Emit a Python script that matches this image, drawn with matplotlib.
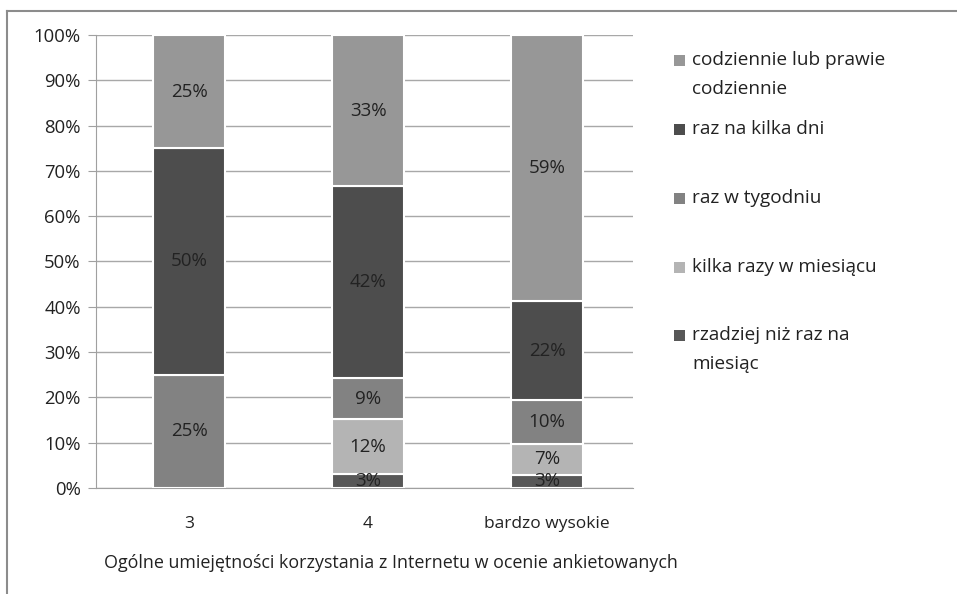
import matplotlib.pyplot as plt
import numpy as np
from matplotlib.patches import Rectangle
from matplotlib.lines import Line2D

plt.rcParams['font.family'] = ['Open Sans', 'DejaVu Sans']

categories = ['3', '4', 'bardzo wysokie']
# stacked from bottom to top
series_names = ['rzadziej niż raz na\nmiesiąc', 'kilka razy w miesiącu', 'raz w tygodniu',
                'raz na kilka dni', 'codziennie lub prawie\ncodziennie']
rzadziej = [0, 3.0, 2.9]
kilka_razy = [0, 12.2, 6.8]
tydzien = [25, 9.1, 9.7]
kilka_dni = [50, 42.3, 21.8]
codziennie = [25, 33.4, 58.8]
colors = ['#575757', '#b4b4b4', '#828282', '#4d4d4d', '#979797']

values = [rzadziej, kilka_razy, tydzien, kilka_dni, codziennie]
text_col = '#222222'

fig = plt.figure(figsize=(9.57, 5.94), dpi=100)
ax = fig.add_axes([0.1003, 0.1785, 0.561, 0.7626])

x = np.arange(len(categories))
bottom = np.zeros(len(categories))
for vals, col in zip(values, colors):
    vals = np.array(vals, dtype=float)
    bars = ax.bar(x, vals, 0.4, bottom=bottom, color=col, edgecolor='white', linewidth=1.5, zorder=3)
    for b, v, btm in zip(bars, vals, bottom):
        if v > 0:
            ax.text(b.get_x() + b.get_width() / 2, btm + v / 2, f'{round(v):.0f}%',
                    ha='center', va='center', fontsize=13.5, color=text_col, zorder=4)
    bottom += vals

ax.set_xlim(-0.52, 2.48)
ax.set_ylim(0, 100)
ax.set_yticks(np.arange(0, 101, 10))
ax.set_yticklabels([f'{v}%' for v in range(0, 101, 10)])
ax.set_xticks(x)
ax.set_xticklabels(categories)
ax.grid(axis='y', color='#a8a8a8', linewidth=1, zorder=0)
for s in ['top', 'right']:
    ax.spines[s].set_visible(False)
for s in ['left', 'bottom']:
    ax.spines[s].set_color('#a0a0a0')
ax.tick_params(axis='y', length=6, color='#a0a0a0', labelsize=13.3, labelcolor=text_col, pad=5)
ax.tick_params(axis='x', length=0, labelsize=12.5, labelcolor=text_col, pad=20)

fig.text(391 / 957, 1 - 563 / 594, 'Ogólne umiejętności korzystania z Internetu w ocenie ankietowanych',
         ha='center', va='center', fontsize=12.9, color=text_col)

# legend, top to bottom
leg_y = [60, 129, 198, 267, 335]
for i, (name, col) in enumerate(zip(series_names[::-1], colors[::-1])):
    yc = 1 - leg_y[i] / 594
    fig.add_artist(Rectangle((674 / 957, yc - 5.5 / 594), 11 / 957, 11 / 594,
                             transform=fig.transFigure, facecolor=col, edgecolor='none'))
    fig.text(692 / 957, yc + 9 / 594, name, ha='left', va='top', fontsize=13.7,
             color=text_col, linespacing=1.8)

# outer frame (top and left)
fig.add_artist(Line2D([7 / 957, 1], [1 - 11 / 594, 1 - 11 / 594], transform=fig.transFigure,
                      color='#8c8c8c', linewidth=1.5))
fig.add_artist(Line2D([7 / 957, 7 / 957], [0, 1 - 11 / 594], transform=fig.transFigure,
                      color='#8c8c8c', linewidth=1.5))

fig.savefig('out.png', dpi=100)
